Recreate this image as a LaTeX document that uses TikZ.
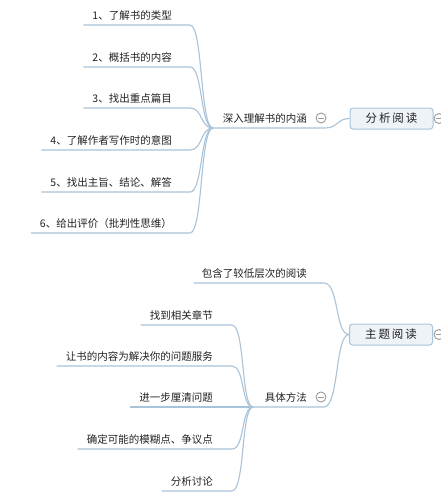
\documentclass[tikz,border=0pt]{standalone}
\usepackage{fontspec}
\newfontfamily\cjk{Noto Sans CJK SC}
\definecolor{linec}{HTML}{A9C3D8}
\definecolor{boxfill}{HTML}{EEF3F8}
\definecolor{boxline}{HTML}{A9C4DA}
\definecolor{txt}{HTML}{222222}
\definecolor{togc}{HTML}{9A9A9A}
\tikzset{
  conn/.style={draw=linec, line width=1.1pt},
  leaf/.style={font=\cjk\fontsize{10.5}{12}\selectfont, text=txt, inner xsep=0pt, inner ysep=4pt, anchor=south east},
  topic/.style={draw=boxline, fill=boxfill, rounded corners=3pt, line width=1pt, minimum width=83pt, minimum height=21pt, font=\cjk\fontsize{11.5}{13}\selectfont, text=txt, inner sep=0pt},
  toggle/.style={circle, draw=togc, fill=white, line width=0.9pt, minimum size=10pt, inner sep=0pt,
    path picture={\draw[togc, line width=0.9pt] ([xshift=-3pt]path picture bounding box.center) -- ([xshift=3pt]path picture bounding box.center);}},
}
\begin{document}
\begin{tikzpicture}[x=1pt, y=-1pt]
\useasboundingbox[fill=white] (0,0) rectangle (441,498);

% ---------- analytical reading ----------
\node[topic] (fx) at (391.5,118.5) {分\,析\,阅\,读};
\node[toggle] (tfx) at (439,118.5) {};
\coordinate (j1) at (213,128);
\node[leaf] (mid1) at (307,128) {深入理解书的内涵};
\node[toggle] (tm1) at (321,118) {};
\draw[conn] (j1) -- (325,128) .. controls (338,128) and (337,118.5) .. (fx.west);

\foreach \i/\y/\t in {1/25/{1、了解书的类型},2/67/{2、概括书的内容},3/108/{3、找出重点篇目},
                      4/150/{4、了解作者写作时的意图},5/192/{5、找出主旨、结论、解答},6/233/{6、给出评价（批判性思维）}}{
  \node[leaf] (a\i) at (172,\y) {\t};
  \draw[conn] ([xshift=-9pt]a\i.south west) -- (190,\y) .. controls (203,\y) and (200,128) .. (j1);
}

% ---------- syntopical reading ----------
\node[topic] (zt) at (391,334.5) {主\,题\,阅\,读};
\node[toggle] (tzt) at (439,334.5) {};
\node[leaf] (b0) at (307,283) {包含了较低层次的阅读};
\draw[conn] ([xshift=-8pt]b0.south west) -- (324,283) .. controls (339,283) and (335,334.5) .. (zt.west);
\coordinate (j2) at (253,407);
\node[leaf] (mid2) at (307,407) {具体方法};
\node[toggle] (tm2) at (321,397) {};
\draw[conn] (j2) -- (324,407) .. controls (339,407) and (335,334.5) .. (zt.west);

\foreach \i/\y/\t in {1/325/{找到相关章节},2/366/{让书的内容为解决你的问题服务},3/407/{进一步厘清问题},
                      4/449/{确定可能的模糊点、争议点},5/491/{分析讨论}}{
  \node[leaf] (c\i) at (213,\y) {\t};
  \draw[conn] ([xshift=-9pt]c\i.south west) -- (232,\y) .. controls (245,\y) and (241,407) .. (j2);
}
\end{tikzpicture}
\end{document}
